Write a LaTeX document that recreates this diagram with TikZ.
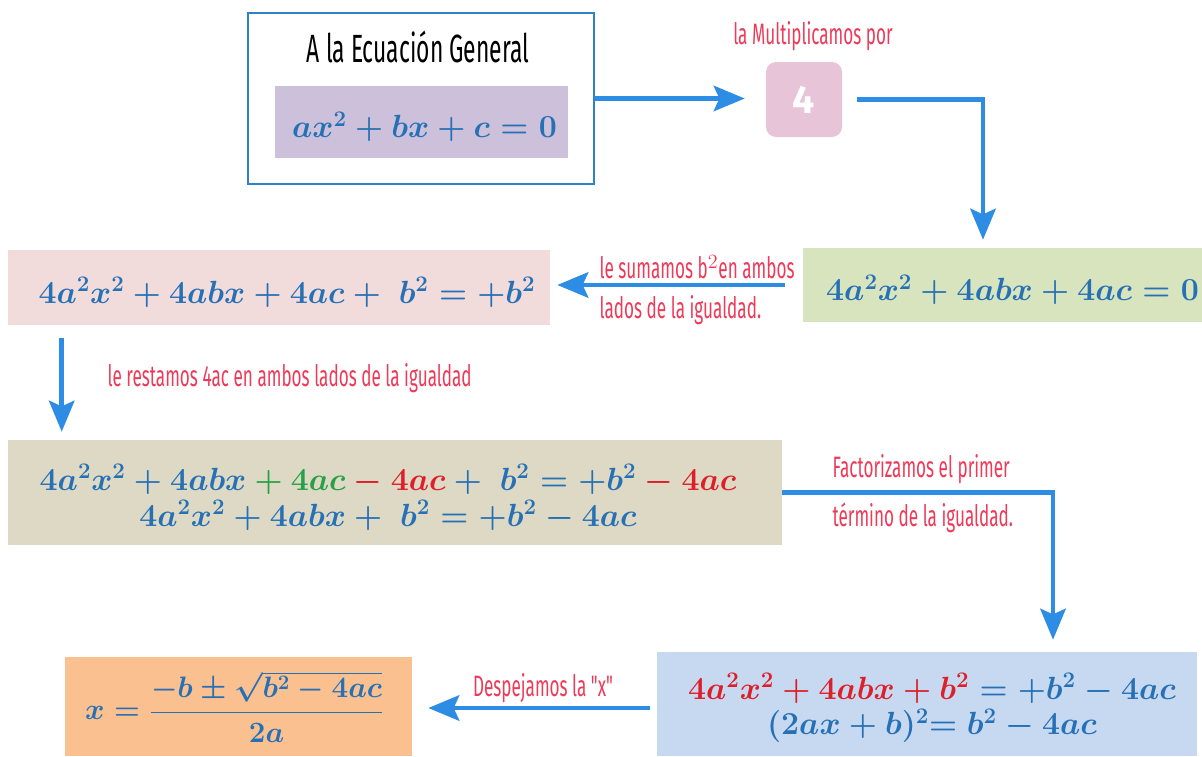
\documentclass[tikz,border=0pt]{standalone}
\usepackage{fontspec}
\usepackage{amsmath}
\usetikzlibrary{arrows.meta,positioning}
\newfontfamily\handfont[FakeStretch=0.58]{Fira Sans}
\newfontfamily\digitfont{Fira Sans}
\definecolor{mblue}{RGB}{38,112,182}
\definecolor{mred}{RGB}{222,30,40}
\definecolor{mgreen}{RGB}{40,160,70}
\definecolor{notered}{RGB}{238,58,88}
\definecolor{arrowblue}{RGB}{45,140,228}
\definecolor{frame}{RGB}{45,130,200}
\definecolor{genfill}{RGB}{204,192,218}
\definecolor{fourfill}{RGB}{232,196,216}
\definecolor{greenfill}{RGB}{215,228,189}
\definecolor{pinkfill}{RGB}{242,220,219}
\definecolor{tanfill}{RGB}{221,217,196}
\definecolor{bluefill}{RGB}{198,217,241}
\definecolor{orangefill}{RGB}{250,192,144}
\newcommand{\pxl}{0.025cm}
\tikzset{
  >={Stealth[length=22pt,width=18pt,inset=4pt]},
  flow/.style={->,line width=3.5pt,draw=arrowblue},
  eqbox/.style={fill=#1,inner sep=0pt},
  eqtext/.style={inner sep=0pt,align=center,text=mblue,scale=1.1,transform shape,
    font=\fontsize{20.74}{24}\selectfont\boldmath},
  note/.style={font=\fontsize{21}{24}\selectfont\handfont,text=notered,inner sep=1pt},
}
\begin{document}
\begin{tikzpicture}[x=0.025cm,y=-0.025cm]
  \useasboundingbox (0,0) rectangle (1202,756);
  % ecuacion general
  \node[draw=frame,line width=2pt,minimum width=346*\pxl,minimum height=171*\pxl] (gen) at (421,98.5) {};
  \node[font=\fontsize{28}{30}\selectfont\handfont,text=black] (gen title) at (418,47) {A la Ecuación General};
  \node[eqbox=genfill,minimum width=293*\pxl,minimum height=72*\pxl] (gen eq) at (421.5,122) {};
  \node[eqtext] (gen eq text) at ([shift={(3,5)}]gen eq.center) {$ax^2+bx+c=0$};
  % por 4
  \node[fill=fourfill,rounded corners=10*\pxl,minimum width=76*\pxl,minimum height=75*\pxl,
    text=white,font=\fontsize{28}{30}\selectfont\digitfont\bfseries] (four) at (804,99.5) {4};
  \node[note] (mult) at (813,36) {la Multiplicamos por};
  \draw[flow,shorten >=21*\pxl] (gen.east) -- (gen.east -| four.west);
  % primer paso
  \node[eqbox=greenfill,minimum width=399*\pxl,minimum height=74*\pxl] (green) at (1002.5,285) {};
  \node[eqtext] (green text) at ([shift={(10,5)}]green.center) {$4a^2x^2+4abx+4ac=0$};
  \draw[flow] ([shift={(15,0)}]four.east) -| ([shift={(-19.5,-8)}]green.north);
  % sumamos b^2
  \node[eqbox=pinkfill,minimum width=542*\pxl,minimum height=75*\pxl] (pink) at (279,287.5) {};
  \node[eqtext] (pink text) at ([shift={(8,5)}]pink.center) {$4a^2x^2+4abx+4ac+\ b^2=+b^2$};
  \draw[flow] ([shift={(-18,0)}]green.west) -- ([shift={(7,0)}]green.west -| pink.east);
  \node[note,anchor=west] (sum a) at (598,267) {le sumamos b$^2$en ambos};
  \node[note,anchor=west] (sum b) at (598,310) {lados de la igualdad.};
  % restamos 4ac
  \node[eqbox=tanfill,minimum width=774*\pxl,minimum height=105*\pxl] (tan) at (395,492.5) {};
  \node[eqtext] (tan text) at ([shift={(-7,5)}]tan.center)
    {$4a^2x^2+4abx{\color{mgreen}{}+4ac}{\color{mred}{}-4ac}+\ b^2=+b^2{\color{mred}{}-4ac}$\\[-1pt]
     $4a^2x^2+4abx+\ b^2=+b^2-4ac$};
  \draw[flow] ([shift={(54,13)}]pink.south west) -- ([shift={(54,-8)}]tan.north west);
  \node[note,anchor=west] (rest) at (106,378) {le restamos 4ac en ambos lados de la igualdad};
  % factorizamos
  \node[eqbox=bluefill,minimum width=540*\pxl,minimum height=104*\pxl] (blue) at (927,704) {};
  \node[eqtext] (blue text) at ([shift={(5,4)}]blue.center)
    {${\color{mred}4a^2x^2+4abx+b^2}=+b^2-4ac$\\[-1pt]
     $(2ax+b)^2{=}\ b^2-4ac$};
  \draw[flow] (tan.east) -| ([shift={(126,-12)}]blue.north);
  \node[note,anchor=west] (fact a) at (831,469) {Factorizamos el primer};
  \node[note,anchor=west] (fact b) at (831,518) {término de la igualdad.};
  % despejamos x
  \node[eqbox=orangefill,minimum width=347*\pxl,minimum height=99*\pxl] (orange) at (238.5,706.5) {};
  \node[eqtext,scale=0.92] (orange text) at ([shift={(-4,0)}]orange.center) {$x=\dfrac{-b\pm\sqrt{b^2-4ac}}{2a}$};
  \draw[flow] ([shift={(-7,4)}]blue.west) -- ([shift={(16,4)}]blue.west -| orange.east);
  \node[note] (desp) at (543,688) {Despejamos la "x"};
\end{tikzpicture}
\end{document}
